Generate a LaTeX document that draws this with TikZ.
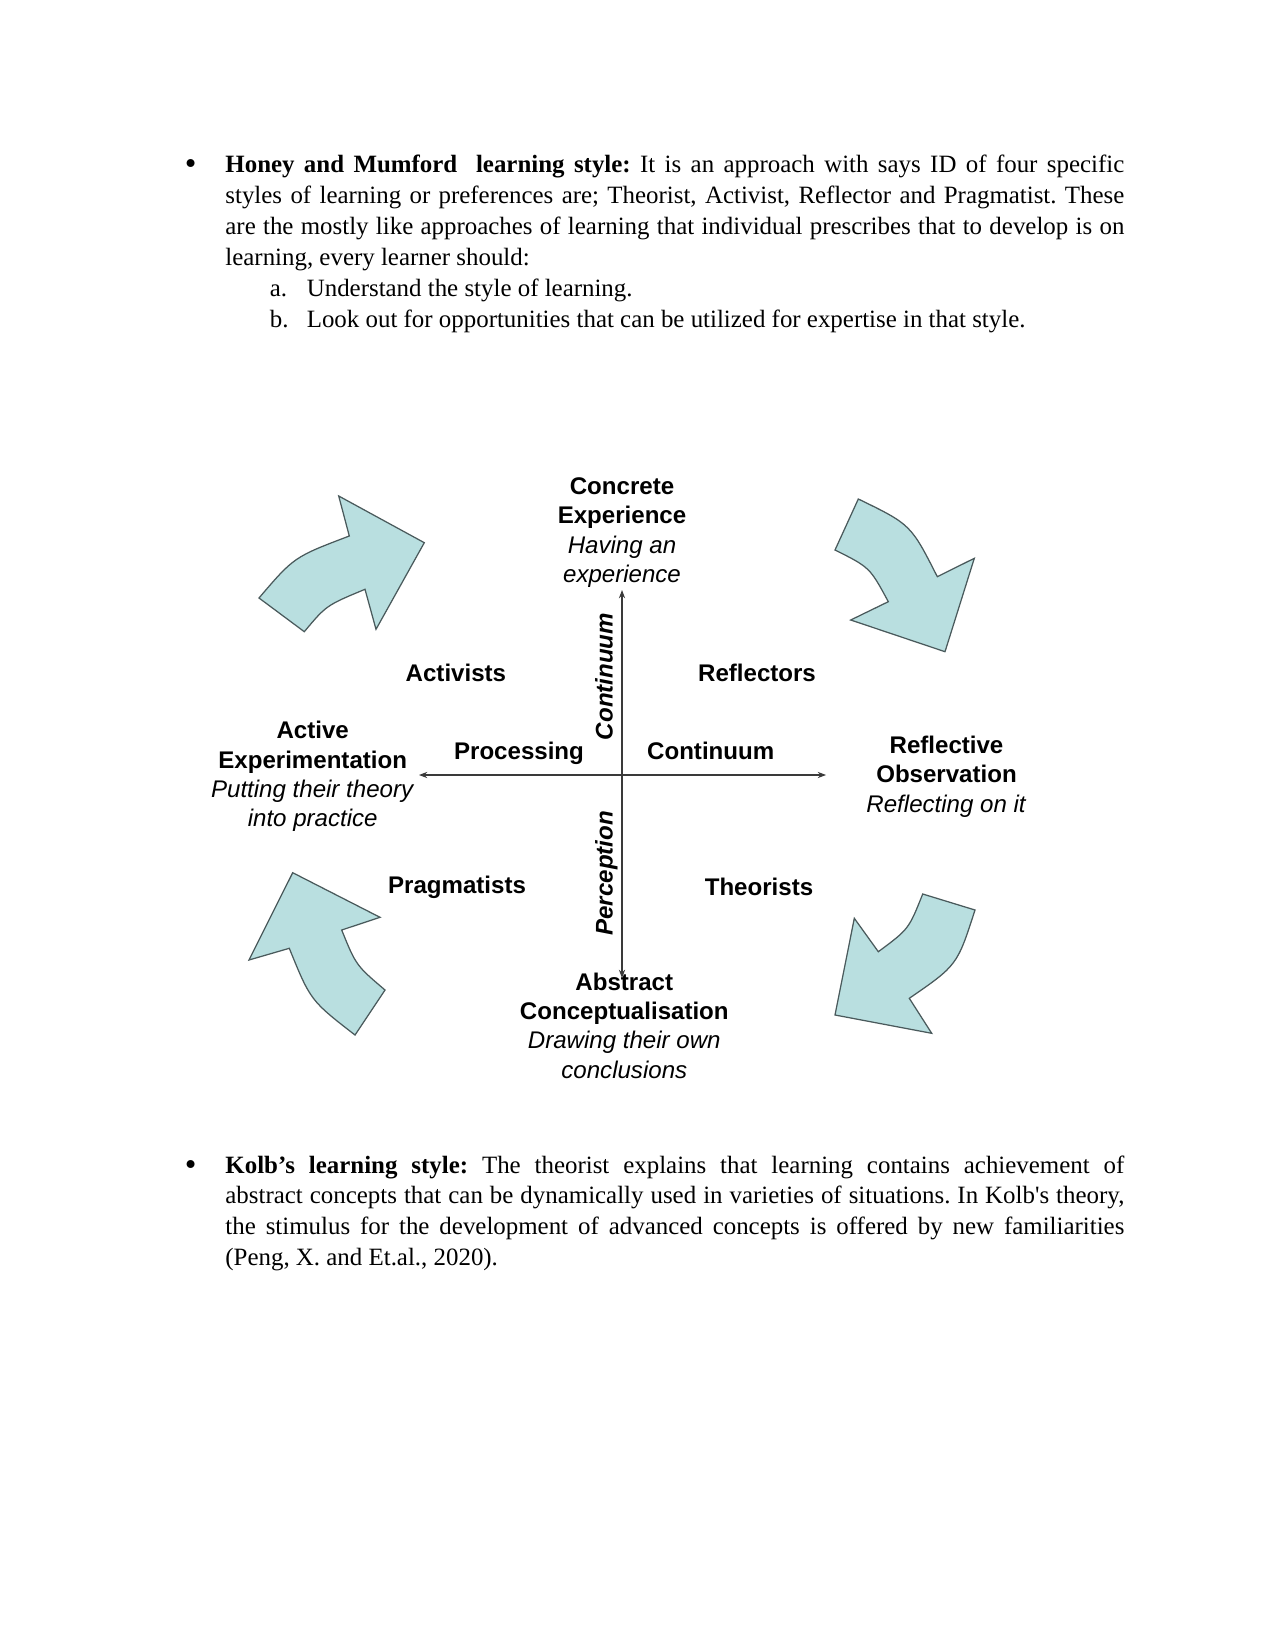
\documentclass[tikz,border=0pt]{standalone}
\usepackage{fontspec}
\setmainfont{Liberation Serif}
\newfontfamily\diyagramFont{Liberation Sans}
\usepackage{xcolor}
\usepackage{tikz}
\usetikzlibrary{arrows.meta,calc,positioning}
\definecolor{okDolgu}{HTML}{B9DFE0}
\definecolor{okKenar}{HTML}{4A5A5C}
\definecolor{eksenGri}{HTML}{3A3A3A}
\frenchspacing

\begin{document}
\begin{tikzpicture}[x=0.4818pt,y=-0.4818pt,
  every node/.style={inner sep=0pt},
  govde/.style={font=\fontsize{12}{14.9}\selectfont},
  madde/.style={font=\fontsize{16}{16}\selectfont,anchor=base},
  blok/.style={font=\diyagramFont\fontsize{11.6}{14.1}\selectfont,align=center},
  etiket/.style={font=\diyagramFont\fontsize{11.6}{14.1}\selectfont\bfseries},
  dikEtiket/.style={font=\diyagramFont\fontsize{11.6}{14.1}\selectfont\bfseries\itshape,rotate=90},
  blokOk/.style={draw=okKenar,fill=okDolgu,line width=0.6pt,line join=miter},
  eksen/.style={draw=eksenGri,line width=0.5pt,{Stealth[length=4pt,width=3pt]}-{Stealth[length=4pt,width=3pt]}}]
\useasboundingbox (0,0) rectangle (1275,1651);
\node[madde] (mad1) at (190.6,174.9) {\textbullet};
\node[govde,anchor=base west,text width=433.1pt,align=justify] (par1) at (225,172.3) {\textbf{Honey and Mumford\ \ learning style:} It is an approach with says ID of four specific\linebreak styles of learning or preferences are; Theorist, Activist, Reflector and Pragmatist. These\linebreak are the mostly like approaches of learning that individual prescribes that to develop is on\linebreak learning, every learner should:};
\node[govde,anchor=base west] (ma) at (269.5,296.1) {a.};
\node[govde,anchor=base west] (mat) at (306.4,296.1) {Understand the style of learning.};
\node[govde,anchor=base west] (mb) at (269.5,327.1) {b.};
\node[govde,anchor=base west] (mbt) at (306.4,327.1) {Look out for opportunities that can be utilized for expertise in that style.};
\draw[blokOk] (259,598) .. controls (294,557) .. (349.3,536) -- (338.7,496) -- (424.3,542.7) -- (376,629.3) -- (365,589.3) .. controls (326.3,605.4) .. (304.3,631.7) -- cycle;
\draw[blokOk] (858.3,499) .. controls (910.8,524.5) .. (937.3,576.7) -- (974.3,558.3) -- (945,651.7) -- (850.7,620) -- (888.3,601.7) .. controls (869.8,567.4) .. (835,550) -- cycle;
\draw[blokOk] (975,910) .. controls (957.2,965.3) .. (909.3,998.3) -- (931.7,1033.3) -- (835,1015) -- (854.3,918.3) -- (878.3,951.7) .. controls (908.7,929.2) .. (922.7,894) -- cycle;
\draw[blokOk] (355,1035) .. controls (310.5,1000.5) .. (289.3,948.3) -- (249,960) -- (292.7,872.7) -- (380,917.3) -- (341.7,930) .. controls (356,965.3) .. (385,990) -- cycle;
\coordinate (ustUc) at (622,590);
\coordinate (altUc) at (622,978);
\coordinate (solUc) at (419,775);
\coordinate (sagUc) at (826,775);
\draw[eksen] (altUc) -- (ustUc);
\draw[eksen] (solUc) -- (sagUc);
\node[blok,anchor=base] (somut) at (622,582.3) {\textbf{Concrete}\\\textbf{Experience}\\\textit{Having an}\\\textit{experience}};
\node[blok,anchor=base] (aktif) at (312.7,826.6) {\textbf{Active}\\\textbf{Experimentation}\\\textit{Putting their theory}\\\textit{into practice}};
\node[blok,anchor=base] (yansit) at (946.5,812) {\textbf{Reflective}\\\textbf{Observation}\\\textit{Reflecting on it}};
\node[blok,anchor=base] (soyut) at (624.3,1078.2) {\textbf{Abstract}\\\textbf{Conceptualisation}\\\textit{Drawing their own}\\\textit{conclusions}};
\node[etiket,anchor=base] (aktivist) at (455.9,681.7) {Activists};
\node[etiket,anchor=base] (yansitici) at (757,681.7) {Reflectors};
\node[etiket,anchor=base] (pragmatist) at (457,893.3) {Pragmatists};
\node[etiket,anchor=base] (kuramci) at (759,895.5) {Theorists};
\node[etiket,anchor=base] (isleme) at (519,759.6) {Processing};
\node[etiket,anchor=base] (sureklilik) at (710.7,759.6) {Continuum};
\node[dikEtiket,anchor=base] (dikSurek) at (612.5,676.5) {Continuum};
\node[dikEtiket,anchor=base] (algi) at (612.5,873.3) {Perception};
\node[madde] (mad2) at (190.6,1175.6) {\textbullet};
\node[govde,anchor=base west,text width=433.1pt,align=justify] (par2) at (225,1173) {\textbf{Kolb’s learning style:} The theorist explains that learning contains achievement of\linebreak abstract concepts that can be dynamically used in varieties of situations. In Kolb\textquotesingle s theory,\linebreak the stimulus for the development of advanced concepts is offered by new familiarities\linebreak (Peng, X. and Et.al., 2020).};
\end{tikzpicture}
\end{document}
